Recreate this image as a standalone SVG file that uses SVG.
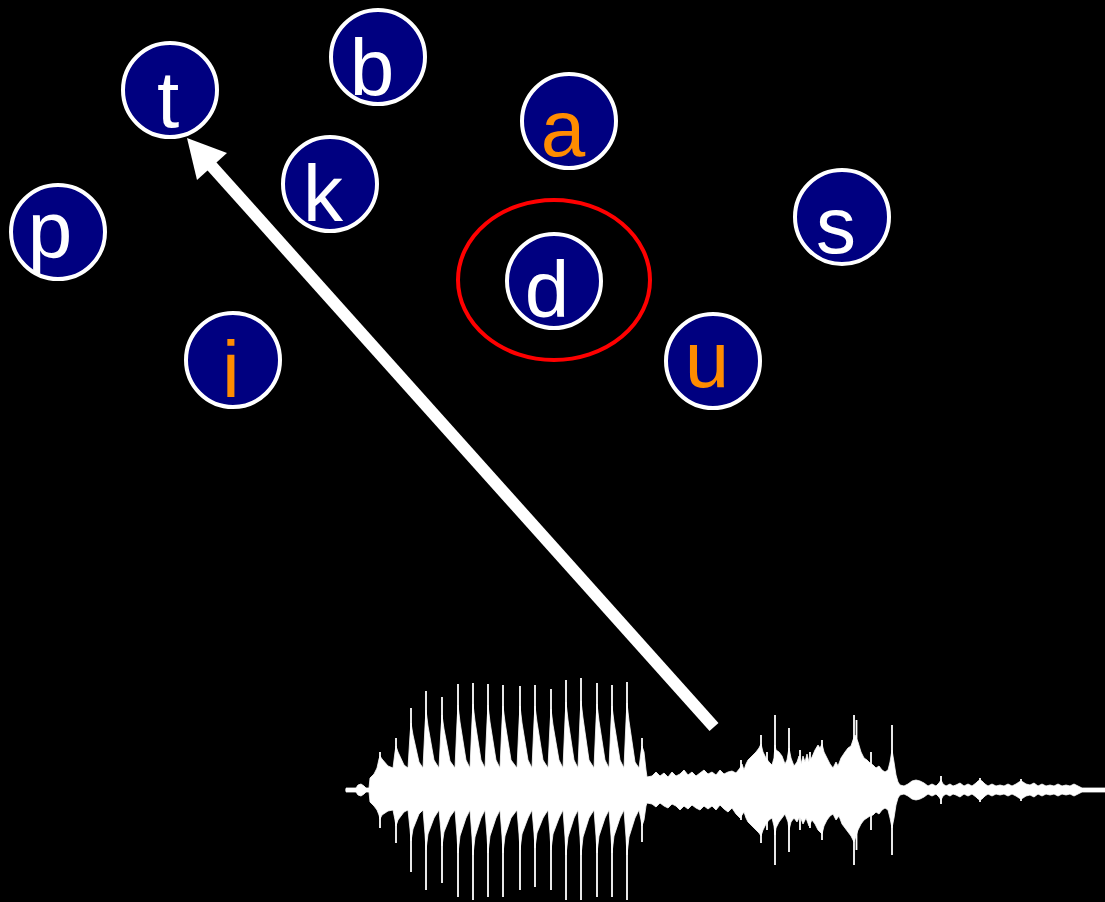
<svg xmlns="http://www.w3.org/2000/svg" width="1105" height="902" viewBox="0 0 1105 902">
<style>
.node circle{fill:#000080;stroke:#FFFFFF;stroke-width:4}
.node text{font-family:"Liberation Sans",Arial,sans-serif;font-size:80px;text-anchor:middle;fill:#FFFFFF}
.node text.v{fill:#FF8C00}
.wave{fill:#FFFFFF;stroke:#FFFFFF;stroke-width:0.8;stroke-linejoin:miter}
.spk{fill:none;stroke:#FFFFFF;stroke-width:1.8}
.conn{stroke:#FFFFFF;stroke-width:12;fill:none}
</style>
<rect x="0" y="0" width="1105" height="902" fill="#000000"/>
<g id="n-t" class="node"><circle cx="170" cy="90" r="47"/><text x="168" y="127">t</text></g>
<g id="n-b" class="node"><circle cx="378" cy="57" r="47"/><text x="372" y="95">b</text></g>
<g id="n-a" class="node"><circle cx="569" cy="121" r="47"/><text class="v" x="563" y="156">a</text></g>
<g id="n-k" class="node"><circle cx="330" cy="184" r="47"/><text x="323" y="221">k</text></g>
<g id="n-p" class="node"><circle cx="58" cy="232" r="47"/><text x="50" y="257">p</text></g>
<g id="n-s" class="node"><circle cx="842" cy="217" r="47"/><text x="836" y="253">s</text></g>
<g id="n-d" class="node"><circle cx="554" cy="281" r="47"/><text x="547" y="317">d</text></g>
<g id="n-i" class="node"><circle cx="233" cy="360" r="47"/><text class="v" x="231" y="397">i</text></g>
<g id="n-u" class="node"><circle cx="713" cy="361" r="47"/><text class="v" x="707" y="387">u</text></g>
<ellipse id="highlight" cx="554" cy="280" rx="96" ry="80" fill="none" stroke="#FF0000" stroke-width="4"/>
<g id="waveform">
<path class="wave" d="M346,791 L346,788 L356,788 L358,785 L361,784 L364,786 L366,788 L369,788 L370,778 L374,774 L377,768 L379,759 L380,756 L382,759 L388,766 L393,768 L395,752 L396,746 L398,752 L404,765 L408,768 L410,735 L411,723 L413,735 L419,762 L423,768 L425,726 L426,710 L428,726 L434,760 L439,768 L441,729 L442,715 L444,729 L450,761 L455,768 L457,722 L458,705 L460,722 L466,760 L470,768 L472,721 L473,704 L475,721 L481,760 L485,768 L487,722 L488,705 L490,722 L496,760 L500,768 L502,722 L503,706 L505,722 L511,760 L517,768 L519,723 L520,706 L522,723 L528,760 L532,768 L534,722 L535,706 L537,722 L543,760 L548,768 L550,725 L551,709 L553,725 L559,760 L563,768 L565,720 L566,702 L568,720 L574,760 L578,768 L580,718 L581,701 L583,718 L589,760 L594,768 L596,721 L597,704 L599,721 L605,760 L609,768 L611,722 L612,706 L614,722 L620,760 L624,768 L626,721 L627,703 L629,721 L635,762 L639,768 L641,752 L642,746 L644,752 L646,770 L647,777 L652,776 L656,772 L660,776 L664,773 L668,777 L672,772 L676,776 L680,774 L684,770 L688,775 L692,772 L696,776 L700,773 L704,770 L708,774 L712,772 L716,775 L720,770 L724,774 L728,772 L732,771 L736,773 L740,768 L742,764 L744,770 L746,764 L748,760 L752,756 L756,752 L759,748 L761,744 L763,752 L766,758 L769,762 L772,765 L774,758 L775,745 L776,750 L779,752 L782,756 L785,764 L787,760 L789,748 L791,758 L794,766 L797,762 L799,756 L801,764 L803,756 L805,762 L807,754 L809,762 L812,757 L815,750 L818,745 L820,748 L822,744 L824,752 L827,758 L830,764 L833,768 L836,762 L838,766 L841,758 L845,752 L848,748 L851,746 L853,740 L855,735 L858,742 L861,752 L864,758 L867,760 L870,763 L873,765 L876,768 L879,766 L882,770 L885,772 L888,770 L890,762 L892,750 L894,762 L896,775 L898,782 L900,785 L904,786 L908,784 L912,781 L916,780 L920,781 L924,783 L928,786 L932,784 L936,786 L939,783 L941,780 L943,784 L946,786 L950,784 L953,786 L956,785 L960,783 L964,786 L968,784 L972,786 L976,783 L978,781 L980,780 L982,781 L985,784 L988,786 L992,784 L996,786 L1000,785 L1004,786 L1008,784 L1012,786 L1016,784 L1019,782 L1021,781 L1023,782 L1026,784 L1030,785 L1034,783 L1038,786 L1042,784 L1046,786 L1050,785 L1054,786 L1058,784 L1062,786 L1066,785 L1070,786 L1074,784 L1078,786 L1082,788 L1105,788 L1105,791 Z"/>
<path class="wave" d="M346,789 L346,792 L356,792 L358,795 L361,796 L364,794 L366,792 L369,792 L370,802 L374,806 L377,810 L379,815 L380,819 L382,815 L388,811 L393,810 L395,820 L396,826 L398,820 L404,812 L408,810 L410,829 L411,841 L413,829 L419,814 L423,810 L425,834 L426,850 L428,834 L434,818 L439,810 L441,832 L442,846 L444,832 L450,817 L455,810 L457,836 L458,853 L460,836 L466,818 L470,810 L472,837 L473,855 L475,837 L481,818 L485,810 L487,836 L488,853 L490,836 L496,818 L500,810 L502,836 L503,853 L505,836 L511,818 L517,810 L519,834 L520,850 L522,834 L528,818 L532,810 L534,833 L535,848 L537,833 L543,818 L548,810 L550,834 L551,850 L553,834 L559,818 L563,810 L565,837 L566,855 L568,837 L574,818 L578,810 L580,837 L581,855 L583,837 L589,818 L594,810 L596,836 L597,853 L599,836 L605,818 L609,810 L611,836 L612,853 L614,836 L620,818 L624,810 L626,837 L627,855 L629,837 L635,818 L639,810 L641,820 L642,826 L644,820 L646,806 L647,803 L652,804 L656,807 L660,803 L664,806 L668,808 L672,804 L676,806 L680,810 L684,806 L688,809 L692,805 L696,808 L700,810 L704,806 L708,809 L712,806 L716,810 L720,805 L724,809 L728,812 L732,808 L736,814 L740,818 L744,812 L746,818 L748,822 L752,826 L756,830 L759,833 L761,836 L763,830 L766,824 L769,820 L772,818 L774,826 L775,835 L776,828 L779,822 L782,818 L785,814 L788,822 L789,830 L791,822 L794,818 L797,822 L800,816 L803,824 L806,818 L809,826 L812,820 L815,824 L818,830 L822,834 L824,826 L827,820 L830,816 L833,814 L836,820 L839,816 L842,824 L845,828 L848,832 L851,836 L854,842 L856,836 L858,830 L861,824 L864,820 L867,818 L870,816 L873,815 L876,812 L879,814 L882,810 L885,808 L888,810 L890,818 L892,828 L894,818 L896,805 L898,798 L900,795 L904,794 L908,796 L912,799 L916,800 L920,799 L924,797 L928,794 L932,796 L936,794 L939,797 L941,800 L943,796 L946,794 L950,796 L953,794 L956,795 L960,797 L964,794 L968,796 L972,794 L976,797 L978,799 L980,800 L982,799 L985,796 L988,794 L992,796 L996,794 L1000,795 L1004,794 L1008,796 L1012,794 L1016,796 L1019,798 L1021,799 L1023,798 L1026,796 L1030,795 L1034,797 L1038,794 L1042,796 L1046,794 L1050,795 L1054,794 L1058,796 L1062,794 L1066,795 L1070,794 L1074,796 L1078,794 L1082,792 L1105,792 L1105,789 Z"/>
<path class="spk" d="M380,752V828 M396,738V843 M411,708V872 M426,691V890 M442,697V883 M458,684V897 M473,683V900 M488,684V897 M503,685V897 M520,686V890 M535,685V887 M551,689V890 M566,680V900 M581,678V900 M597,683V897 M612,685V897 M627,682V900 M642,738V842 M761,735V843 M775,715V865 M789,728V852 M822,740V840 M854,715V865 M856.5,720V850 M892,725V855 M941,776V804 M980,778V802 M1021,779V801 M741,760V820 M767,752V830 M800,750V830 M810,752V828 M871,752V830"/>
</g>
<g id="connectors">
<path class="conn" d="M714,727 L208,162"/>
<polygon points="187,138 227,153 197,180" fill="#FFFFFF"/>
</g>
</svg>
